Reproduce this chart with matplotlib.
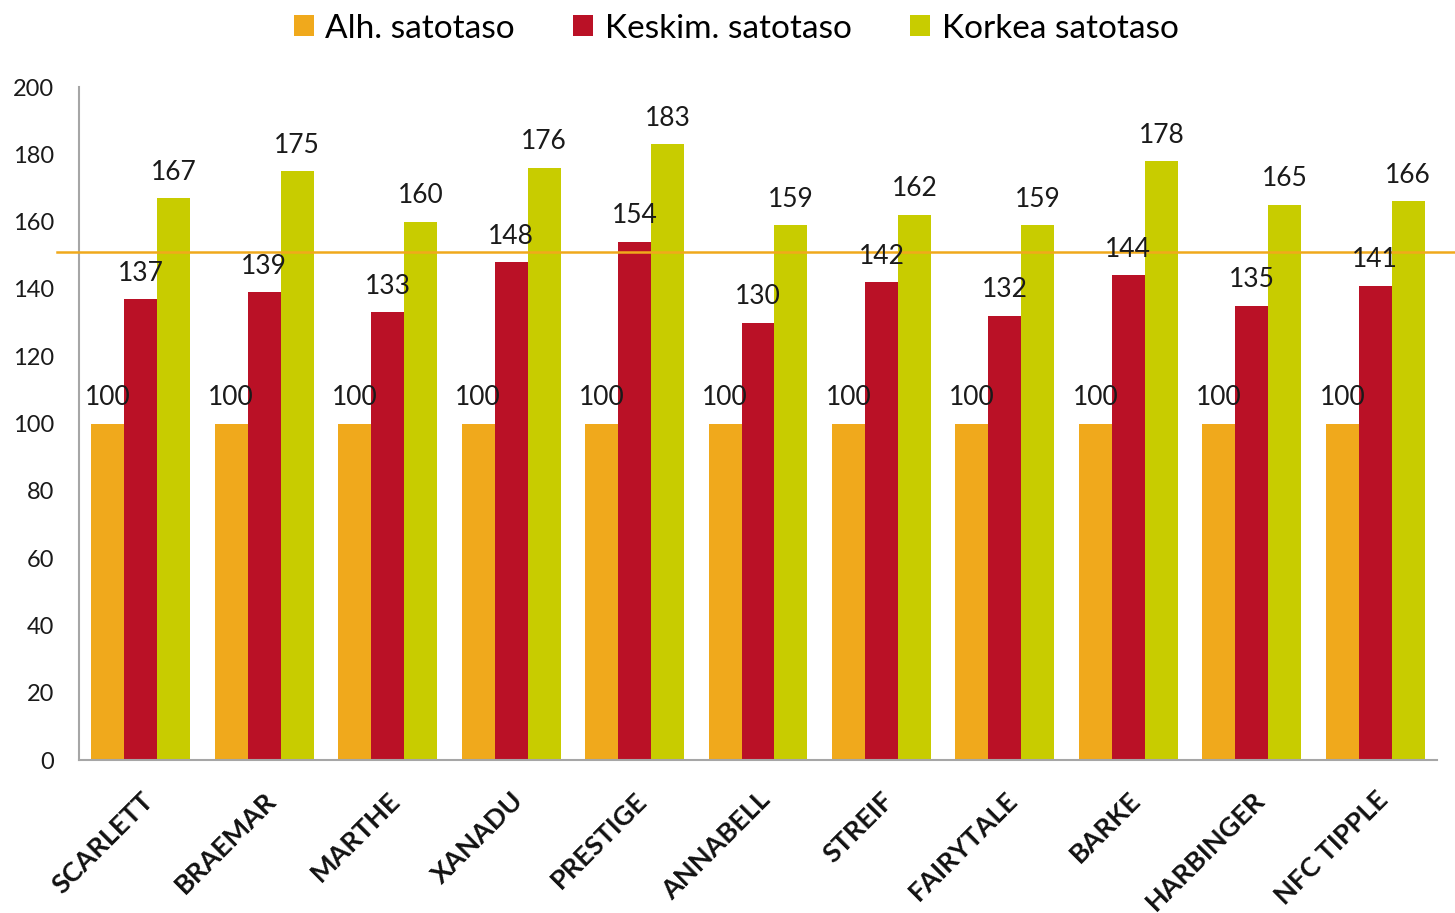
import matplotlib
matplotlib.use("Agg")
import matplotlib.pyplot as plt
import matplotlib.transforms as mtransforms
import numpy as np

categories = ["SCARLETT", "BRAEMAR", "MARTHE", "XANADU", "PRESTIGE", "ANNABELL",
              "STREIF", "FAIRYTALE", "BARKE", "HARBINGER", "NFC TIPPLE"]
alh = [100, 100, 100, 100, 100, 100, 100, 100, 100, 100, 100]
keskim = [137, 139, 133, 148, 154, 130, 142, 132, 144, 135, 141]
korkea = [167, 175, 160, 176, 183, 159, 162, 159, 178, 165, 166]
series_names = ["Alh. satotaso", "Keskim. satotaso", "Korkea satotaso"]
ref_line = 151
yticks = [0, 20, 40, 60, 80, 100, 120, 140, 160, 180, 200]

colors = ["#F0A91C", "#BA1126", "#C8CC00"]

plt.rcParams['font.family'] = ['Lato', 'DejaVu Sans']

fig = plt.figure(figsize=(14.55, 9.13), dpi=100)
ax = fig.add_axes([79/1455, 1 - 760/913, (1437-79)/1455, (760-87)/913])

x = np.arange(len(categories))
w = 0.267
for i, (vals, c, name) in enumerate(zip([alh, keskim, korkea], colors, series_names)):
    pos = x + (i - 1) * w
    ax.bar(pos, vals, width=w, color=c, label=name, zorder=2)
    for px, v in zip(pos, vals):
        ax.text(px, v + 4.0, f"{v}", ha="center", va="bottom", fontsize=19, color="#1a1a1a", zorder=4)

ax.set_xlim(-0.5, len(categories) - 0.5)
ax.set_ylim(0, 200)
ax.set_yticks(yticks)
ax.tick_params(axis='y', length=0, labelsize=17, pad=18, colors="#1a1a1a")
ax.tick_params(axis='x', length=0, pad=20)
ax.set_xticks(x)
ax.set_xticklabels(categories, rotation=45, ha="right", rotation_mode="anchor",
                   fontsize=19.5, fontweight="bold", color="#111111")
for s in ["top", "right"]:
    ax.spines[s].set_visible(False)
for s in ["left", "bottom"]:
    ax.spines[s].set_color("#A6A6A6")
    ax.spines[s].set_linewidth(1.5)

trans = mtransforms.blended_transform_factory(ax.transAxes, ax.transData)
ax.plot([-0.016, 1.02], [ref_line, ref_line], color="#F0A91C", lw=1.8,
        transform=trans, clip_on=False, zorder=3)

leg = fig.legend(loc="upper center", bbox_to_anchor=(0.506, 1.018), ncol=3, frameon=False,
                 fontsize=24, handlelength=0.6, handleheight=0.6, handletextpad=0.35,
                 columnspacing=1.75)

fig.savefig("out.png", dpi=100)
